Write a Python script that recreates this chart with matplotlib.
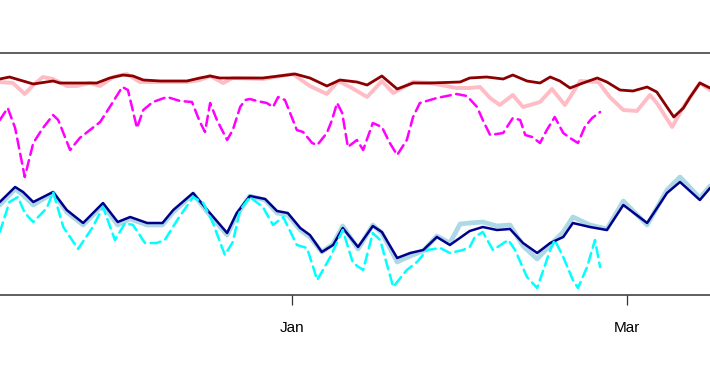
import matplotlib
matplotlib.use("Agg")
import matplotlib.pyplot as plt
import matplotlib.dates as mdates
import numpy as np
import pandas as pd

## data (days relative to 1 Jan, values in arbitrary units)

start = pd.Timestamp("2017-01-01")
view_days = [-51.57, 73.69]

red_days = [-51.6, -49.9, -45.7, -42.2, -41.0, -38.0, -34.5, -32.2, -29.9, -28.1,
            -26.3, -23.3, -18.6, -16.3, -14.5, -12.8, -9.2, -5.2, 0.5, 3.1,
            6.1, 8.4, 11.4, 13.2, 15.8, 18.5, 21.3, 24.3, 29.6, 31.3,
            34.3, 37.2, 38.9, 41.4, 43.7, 45.5, 47.2, 49.0, 51.3, 53.8,
            55.5, 57.8, 60.1, 62.6, 64.3, 66.1, 67.3, 69.0, 70.2, 71.9, 73.7]
red_vals = [216, 218, 211, 214, 212, 212, 212, 217, 220, 219,
            215, 214, 214, 217, 219, 217, 217, 217, 221, 217,
            209, 215, 213, 210, 219, 206, 212, 212, 213, 217,
            218, 216, 220, 214, 212, 218, 214, 207, 212, 217,
            213, 205, 204, 208, 203, 188, 178, 187, 198, 212, 207]

pink_days = [-51.6, -49.3, -47.2, -45.7, -44.0, -42.2, -39.8, -38.0, -35.7, -33.9,
             -31.6, -29.2, -26.9, -23.3, -18.6, -16.3, -14.5, -12.2, -10.5, -5.2,
             0.1, 3.1, 6.1, 8.1, 10.2, 13.2, 15.8, 17.8, 21.3, 24.3,
             29.0, 31.3, 33.1, 34.9, 36.6, 38.9, 40.7, 43.7, 45.8, 48.1,
             50.8, 54.0, 56.0, 58.4, 60.8, 63.1, 64.3, 67.0, 69.0, 71.9, 73.7]
pink_vals = [213, 212, 201, 210, 218, 216, 209, 209, 212, 209,
             218, 221, 213, 213, 213, 215, 219, 212, 217, 216,
             221, 209, 201, 214, 208, 198, 214, 202, 213, 212,
             207, 207, 208, 197, 190, 200, 188, 193, 206, 190,
             214, 213, 198, 185, 184, 200, 192, 168, 188, 212, 205]

magenta_days = [-51.6, -50.2, -48.9, -47.2, -45.7, -44.0, -42.2, -41.3, -39.2, -37.5,
                -35.7, -33.9, -32.2, -30.0, -29.0, -27.4, -26.3, -24.6, -22.1, -19.8,
                -17.7, -16.3, -15.4, -14.5, -13.3, -11.5, -10.5, -9.2, -8.3, -7.5,
                -6.2, -4.5, -3.4, -2.5, -1.3, 0.8, 1.9, 3.5, 4.4, 6.1,
                7.0, 7.9, 8.8, 9.8, 11.4, 12.5, 14.2, 15.8, 17.2, 18.5,
                20.2, 21.3, 22.5, 25.5, 29.0, 30.8, 32.6, 33.6, 34.9, 37.2,
                38.9, 40.2, 41.1, 42.3, 43.7, 44.9, 46.3, 47.8, 49.0, 50.4,
                51.6, 52.9, 54.3]
magenta_vals = [175, 187, 167, 118, 152, 167, 180, 175, 145, 157,
                165, 173, 188, 208, 205, 167, 185, 193, 198, 194,
                193, 173, 163, 192, 175, 155, 165, 188, 195, 196,
                194, 192, 188, 198, 195, 165, 163, 152, 150, 162,
                175, 192, 182, 148, 155, 145, 172, 168, 152, 140,
                155, 178, 192, 197, 201, 199, 188, 175, 160, 162,
                177, 175, 160, 158, 152, 165, 178, 162, 157, 152,
                168, 177, 183]

navy_days = [-51.6, -48.9, -47.5, -45.7, -42.2, -39.8, -36.9, -33.4, -30.8, -28.6,
             -25.6, -22.9, -21.0, -17.5, -15.0, -11.5, -9.8, -7.5, -4.8, -2.7,
             -0.8, 1.4, 3.1, 5.2, 7.2, 8.9, 11.6, 14.2, 15.8, 18.5,
             20.8, 23.1, 25.5, 27.8, 31.3, 33.6, 36.1, 38.4, 40.7, 43.2,
             45.5, 47.8, 49.5, 52.5, 55.5, 58.4, 62.6, 66.1, 68.4, 71.9, 73.7]
navy_vals = [93, 108, 103, 93, 103, 85, 72, 92, 73, 78,
             72, 72, 85, 102, 85, 62, 82, 99, 96, 84,
             82, 67, 60, 43, 50, 67, 48, 69, 63, 37,
             42, 45, 58, 50, 64, 68, 65, 66, 52, 42,
             52, 58, 72, 68, 65, 90, 72, 102, 113, 95, 107]

lblue_days = [-51.6, -48.9, -47.5, -45.7, -42.2, -39.8, -36.9, -33.4, -30.8, -28.6,
              -25.6, -22.9, -21.0, -17.5, -15.0, -11.5, -9.8, -7.5, -4.8, -2.7,
              -0.8, 1.4, 3.1, 5.2, 7.2, 8.9, 11.6, 14.2, 15.8, 18.5,
              20.8, 23.1, 25.5, 27.8, 29.6, 31.3, 33.6, 36.1, 38.4, 40.7,
              43.2, 45.5, 47.8, 49.5, 52.5, 55.5, 58.4, 62.6, 66.1, 68.4, 71.9, 73.7]
lblue_vals = [90, 106, 100, 90, 102, 83, 70, 90, 70, 76,
              70, 70, 83, 101, 83, 60, 80, 99, 95, 82,
              80, 65, 58, 43, 51, 69, 46, 70, 62, 33,
              39, 44, 59, 52, 71, 72, 73, 69, 70, 49,
              36, 50, 63, 78, 70, 66, 94, 70, 105, 118, 97, 109]

cyan_days = [-51.6, -49.9, -48.4, -47.2, -45.7, -43.3, -42.2, -40.4, -37.8, -35.2,
             -33.4, -31.3, -29.5, -28.1, -26.0, -23.9, -22.5, -20.3, -17.5, -15.7,
             -14.0, -11.9, -10.5, -9.2, -7.5, -5.2, -3.4, -1.6, 0.8, 2.6,
             4.4, 6.7, 8.9, 10.7, 12.5, 14.2, 15.5, 17.8, 20.2, 22.0,
             23.8, 26.1, 27.8, 30.1, 31.3, 32.2, 33.6, 35.4, 38.1, 39.3,
             41.4, 43.2, 45.5, 46.3, 47.8, 49.5, 50.4, 52.0, 53.4, 54.3]
cyan_vals = [63, 93, 98, 82, 73, 87, 103, 68, 46, 68,
             88, 55, 72, 70, 52, 52, 55, 75, 98, 92,
             72, 40, 53, 85, 98, 88, 70, 78, 50, 47,
             15, 38, 65, 32, 25, 62, 55, 8, 25, 33,
             45, 47, 42, 45, 48, 58, 63, 45, 55, 45,
             18, 7, 45, 55, 38, 15, 7, 28, 55, 28]


def to_dates(days):
    return start + pd.to_timedelta(np.array(days), unit="D")


fig = plt.figure(figsize=(7.1, 3.75), dpi=100)
ax = fig.add_axes([0, 80 / 375, 1, 242 / 375])

solid = dict(solid_capstyle="round", solid_joinstyle="round")
dashed = dict(dashes=(4, 2.2), dash_capstyle="round", dash_joinstyle="round")

ax.plot(to_dates(pink_days), pink_vals, color="#ffbcc4", lw=2.8, **solid)
ax.plot(to_dates(red_days), red_vals, color="#8b0000", lw=2.0, **solid)
ax.plot(to_dates(magenta_days), magenta_vals, color="#ff00ff", lw=1.8, **dashed)

ax.plot(to_dates(lblue_days), lblue_vals, color="#add8e6", lw=3.4, **solid)
ax.plot(to_dates(navy_days), navy_vals, color="#00008b", lw=1.8, **solid)
ax.plot(to_dates(cyan_days), cyan_vals, color="#00ffff", lw=1.8, **dashed)

ax.set_xlim(to_dates(view_days))
ax.set_ylim(0, 242)

ax.xaxis.set_major_locator(mdates.MonthLocator(bymonth=[1, 3, 5, 7, 9, 11]))
ax.xaxis.set_major_formatter(mdates.DateFormatter("%b"))
ax.tick_params(axis="x", direction="out", length=7.5, width=0.9, color="#333333",
               pad=11, labelsize=11)
for lab in ax.get_xticklabels():
    lab.set_family(["Liberation Sans", "DejaVu Sans"])
ax.set_yticks([])

for side in ["left", "right"]:
    ax.spines[side].set_visible(False)
for side in ["top", "bottom"]:
    ax.spines[side].set_linewidth(1.1)
    ax.spines[side].set_color("#333333")

fig.savefig("out.png", dpi=100)
